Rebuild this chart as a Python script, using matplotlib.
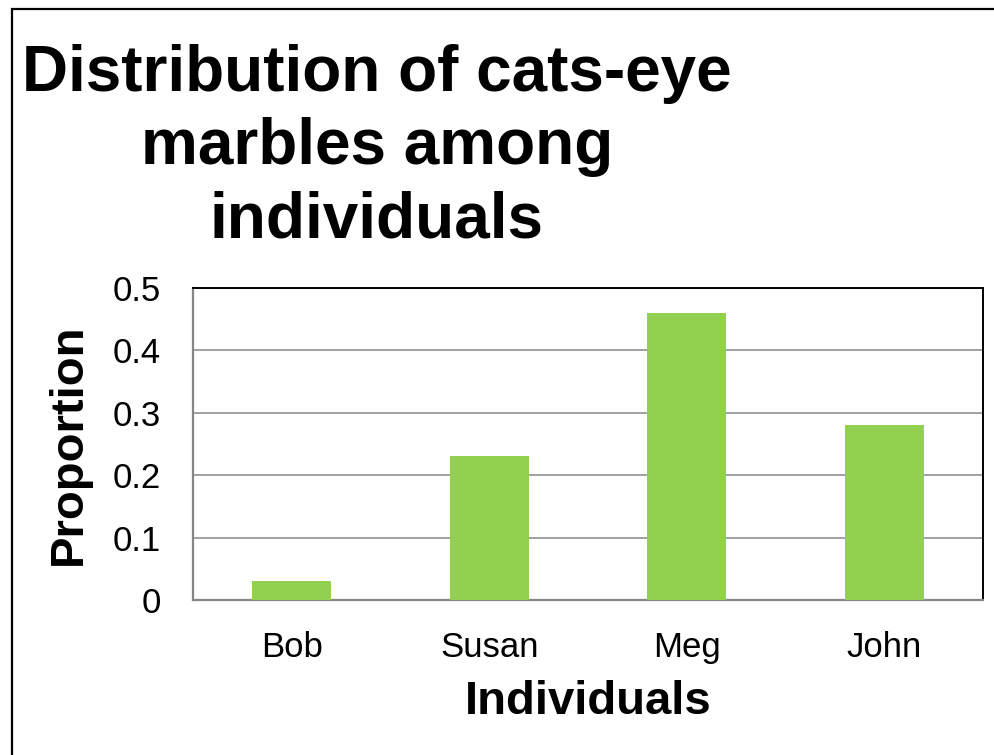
import matplotlib.pyplot as plt
from matplotlib.patches import Rectangle

plt.rcParams['font.family'] = ['Liberation Sans', 'DejaVu Sans']

names = ['Bob', 'Susan', 'Meg', 'John']
proportion = [0.03, 0.23, 0.46, 0.28]
yticks = [0, 0.1, 0.2, 0.3, 0.4, 0.5]
ytick_labels = ['0', '0.1', '0.2', '0.3', '0.4', '0.5']

W, H = 994, 755
fig = plt.figure(figsize=(W / 100, H / 100), dpi=100)

# frame around the whole slide (right/bottom edges fall outside the picture)
fig.patches.append(Rectangle((12 / W, -0.2), 1.2, 1.2 - 9 / H,
                             transform=fig.transFigure, fill=False,
                             edgecolor='black', linewidth=1.6, clip_on=False))

ax = fig.add_axes([193 / W, 1 - 600 / H, 790 / W, 312 / H])
ax.bar(range(len(names)), proportion, width=0.4, color='#92D050', zorder=3)

ax.set_xlim(-0.5, len(names) - 0.5)
ax.set_ylim(0, 0.5)
ax.set_yticks(yticks)
ax.set_yticklabels(ytick_labels)
ax.set_xticks(range(len(names)))
ax.set_xticklabels(names)
ax.tick_params(axis='y', length=0, pad=23, labelsize=25)
ax.tick_params(axis='x', length=0, pad=22, labelsize=25)
ax.grid(axis='y', color='#A0A0A0', linewidth=1.4, zorder=1)

for side in ['left', 'bottom']:
    ax.spines[side].set_color('#868686')
    ax.spines[side].set_linewidth(1.6)
for side in ['top', 'right']:
    ax.spines[side].set_color('black')
    ax.spines[side].set_linewidth(1.4)

ax.set_xlabel('Individuals', fontsize=34, fontweight='bold', labelpad=12)
ax.set_ylabel('Proportion', fontsize=34, fontweight='bold', labelpad=16)

fig.text(377 / W, 1 - 44 / H,
         'Distribution of cats-eye\nmarbles among\nindividuals',
         ha='center', va='top', multialignment='center',
         fontsize=46, fontweight='bold', linespacing=1.28)

fig.savefig('out.png', dpi=100)
